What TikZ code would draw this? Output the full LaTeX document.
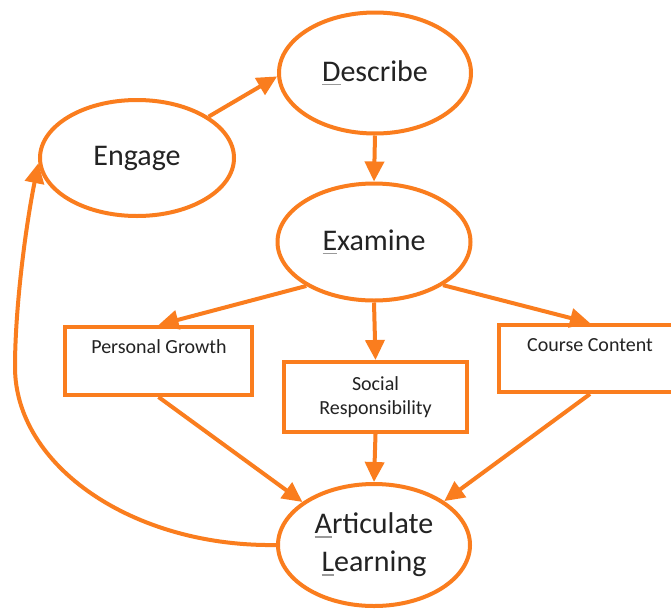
\documentclass[tikz,border=0pt]{standalone}
\usepackage{fontspec}
\setmainfont{Carlito}
\usetikzlibrary{shapes.geometric,arrows.meta}
\definecolor{org}{RGB}{250,125,30}
\definecolor{txt}{RGB}{35,35,35}
\newcommand\ulfirst[1]{\setbox0\hbox{#1}\rlap{\color{gray!80}\rule[-4pt]{\wd0}{1.6pt}}#1}
\tikzset{
  ell/.style={ellipse,draw=org,line width=4pt,inner sep=0pt,text=txt,font=\fontsize{30}{36}\selectfont,align=center},
  boxnode/.style={rectangle,draw=org,line width=4pt,inner sep=0pt,text=txt,font=\fontsize{20}{24}\selectfont,align=center},
  lbl/.style={text=txt,font=\fontsize{20}{24}\selectfont,inner sep=0pt},
  conn/.style={draw=org,line width=4pt,-{Triangle[length=20pt,width=19pt]}}
}
\begin{document}
\begin{tikzpicture}[x=1pt,y=-1pt]
\clip (0,0) rectangle (671,608);
\fill[white] (0,0) rectangle (671,608);
\node[ell,minimum width=192pt,minimum height=121pt] (desc) at (375,73) {\ulfirst{D}escribe};
\node[ell,minimum width=194pt,minimum height=116pt] (eng) at (137,158) {Engage};
\node[ell,minimum width=193pt,minimum height=117pt] (exam) at (374,242) {\ulfirst{E}xamine};
\node[ell,minimum width=192pt,minimum height=122pt] (al) at (374,545) {\ulfirst{A}rticulate\\[2pt]\ulfirst{L}earning};
\node[boxnode,minimum width=187pt,minimum height=68pt] (pg) at (158.5,361) {};
\node[lbl] (pgt) at (159,347) {Personal Growth};
\node[boxnode,minimum width=183pt,minimum height=70pt] (soc) at (375.5,397) {Social\\Responsibility};
\node[boxnode,minimum width=182pt,minimum height=67pt] (cc) at (590,358.5) {};
\node[lbl] (cct) at (590,345) {Course Content};
\draw[conn] (eng.30) -- (desc.182);
\draw[conn] (desc.south) -- (exam.north);
\draw[conn] (exam.213) -- (pg.north);
\draw[conn] (exam.south) -- (soc.north);
\draw[conn] (exam.-32) -- (cc.north);
\draw[conn] (pg.south) -- (al.149);
\draw[conn] (soc.south) -- (al.north);
\draw[conn] (cc.south) -- (al.32);
\coordinate (lm) at (15,367);
\draw[conn] (al.west) .. controls (133,547) and (15,466) .. (lm) .. controls (15,310) and (25,230) .. (eng.183);
\end{tikzpicture}
\end{document}
